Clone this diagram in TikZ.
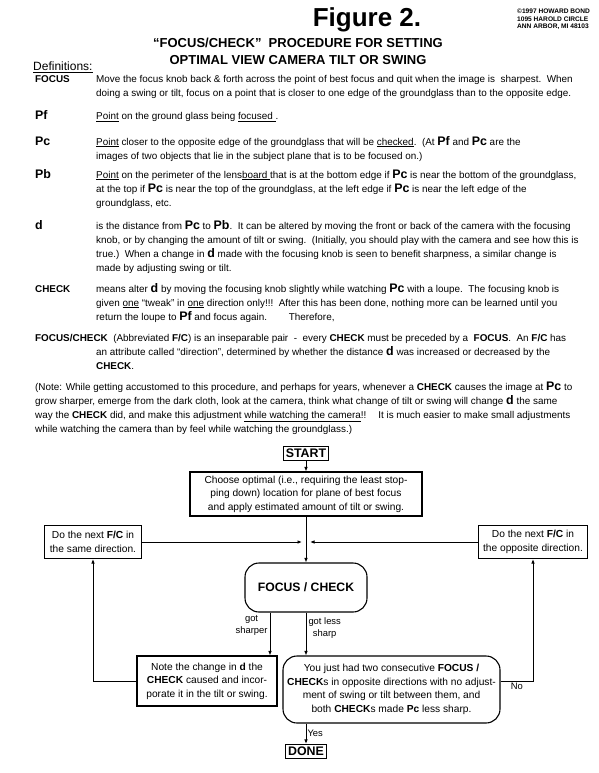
\documentclass[tikz,border=0pt]{standalone}
\usepackage{fontspec}
\setmainfont{Liberation Sans}
\usetikzlibrary{arrows.meta}

\newcommand{\bigterm}[1]{{\fontsize{12.4}{12}\selectfont\bfseries #1}}
\newcommand{\defpar}[1]{\parbox[t]{560pt}{\fontsize{9.9}{14}\selectfont\raggedright #1}}

\tikzset{
  label/.style={anchor=base west, inner sep=0pt, font=\fontsize{9.9}{11}\selectfont\bfseries},
  biglabel/.style={anchor=base west, inner sep=0pt, font=\fontsize{12.4}{12}\selectfont\bfseries},
  body/.style={anchor=base west, inner sep=0pt},
  flowbox/.style={draw, line width=1.1pt, align=center, inner sep=2pt, font=\fontsize{10.2}{13.6}\selectfont},
  endbox/.style={draw, line width=1.5pt, inner sep=2.5pt, font=\fontsize{12.4}{13}\selectfont\bfseries},
  roundbox/.style={flowbox, rounded corners=14pt},
  tag/.style={align=center, inner sep=2pt, font=\fontsize{9.4}{12.5}\selectfont},
  arr/.style={-{Latex[length=4.5pt,width=3.6pt]}, line width=1pt}
}

\begin{document}
\begin{tikzpicture}[x=1pt,y=-1pt]
  \useasboundingbox (0,0) rectangle (598,773);

  % Title
  \node[anchor=base, inner sep=0pt, font=\fontsize{26}{26}\selectfont\bfseries] (title) at (367,27) {Figure 2.};
  \node[anchor=base, inner sep=0pt, font=\fontsize{13}{13}\selectfont\bfseries] (sub1) at (298,48) {“FOCUS/CHECK”\ \ PROCEDURE FOR SETTING};
  \node[anchor=base, inner sep=0pt, font=\fontsize{13}{13}\selectfont\bfseries] (sub2) at (298,65) {OPTIMAL VIEW CAMERA TILT OR SWING};
  \node[anchor=north west, inner sep=0pt, align=left, font=\fontsize{6.6}{7.3}\selectfont\bfseries] (addr) at (517,9) {©1997 HOWARD BOND\\1095 HAROLD CIRCLE\\ANN ARBOR, MI 48103};

  % Definitions
  \node[body, font=\fontsize{12}{12}\selectfont] (defs) at (33,71) {\underline{Definitions:}};

  \node[label] (lfocus) at (35,83) {FOCUS};
  \node[body] (tfocus) at (96,83) {\defpar{Move the focus knob back \& forth across the point of best focus and quit when the image is\ \ sharpest.\ \ When\\
    doing a swing or tilt, focus on a point that is closer to one edge of the groundglass than to the opposite edge.}};

  \node[biglabel] (lpf) at (35,120) {Pf};
  \node[body] (tpf) at (96,120) {\defpar{\underline{Point} on the ground glass being \underline{focused\ }.}};

  \node[biglabel] (lpc) at (35,145) {Pc};
  \node[body] (tpc) at (96,145) {\defpar{\underline{Point} closer to the opposite edge of the groundglass that will be \underline{checked}.\ \ (At \bigterm{Pf} and \bigterm{Pc} are the\\
    images of two objects that lie in the subject plane that is to be focused on.)}};

  \node[biglabel] (lpb) at (35,178) {Pb};
  \node[body] (tpb) at (96,178) {\defpar{\underline{Point} on the perimeter of the lens\underline{board }that is at the bottom edge if \bigterm{Pc} is near the bottom of the groundglass,\\
    at the top if \bigterm{Pc} is near the top of the groundglass, at the left edge if \bigterm{Pc} is near the left edge of the\\
    groundglass, etc.}};

  \node[biglabel] (ld) at (35,229) {d};
  \node[body] (td) at (96,229) {\defpar{is the distance from \bigterm{Pc} to \bigterm{Pb}.\ \ It can be altered by moving the front or back of the camera with the focusing\\
    knob, or by changing the amount of tilt or swing.\ \ (Initially, you should play with the camera and see how this is\\
    true.)\ \ When a change in \bigterm{d} made with the focusing knob is seen to benefit sharpness, a similar change is\\
    made by adjusting swing or tilt.}};

  \node[label] (lcheck) at (35,292) {CHECK};
  \node[body] (tcheck) at (96,292) {\defpar{means alter \bigterm{d} by moving the focusing knob slightly while watching \bigterm{Pc} with a loupe.\ \ The focusing knob is\\
    given \underline{one} “tweak” in \underline{one} direction only!!!\ \ After this has been done, nothing more can be learned until you\\
    return the loupe to \bigterm{Pf} and focus again.\hspace{2.2em}Therefore,}};

  \node[body] (tfc) at (35,341) {\defpar{\textbf{FOCUS/CHECK}\ \ (Abbreviated \textbf{F/C}) is an inseparable pair\ \ -\ \ every \textbf{CHECK} must be preceded by a\ \ \textbf{FOCUS}.\ \ An \textbf{F/C} has}};
  \node[body] (tfcmore) at (96,355) {\defpar{an attribute called “direction”, determined by whether the distance \bigterm{d} was increased or decreased by the\\
    \textbf{CHECK}.}};

  \node[body] (tnote) at (35,390) {\defpar{(Note: While getting accustomed to this procedure, and perhaps for years, whenever a \textbf{CHECK} causes the image at \bigterm{Pc} to\\
    grow sharper, emerge from the dark cloth, look at the camera, think what change of tilt or swing will change \bigterm{d} the same\\
    way the \textbf{CHECK} did, and make this adjustment \underline{while watching the camera}!!\hspace{1.2em}It is much easier to make small adjustments\\
    while watching the camera than by feel while watching the groundglass.)}};

  % Flowchart
  \node[endbox] (start) at (306,453.5) {START};
  \node[flowbox, minimum width=232pt, minimum height=44pt] (choose) at (306,494) {Choose optimal (i.e., requiring the least stop-\\ping down) location for plane of best focus\\and apply estimated amount of tilt or swing.};
  \node[flowbox, minimum width=97pt, minimum height=33pt] (same) at (93,542) {Do the next \textbf{F/C} in\\the same direction.};
  \node[flowbox, minimum width=109pt, minimum height=33pt] (opp) at (533,542) {Do the next \textbf{F/C} in\\the opposite direction.};
  \node[roundbox, minimum width=122pt, minimum height=49pt, font=\fontsize{12.2}{13}\selectfont\bfseries] (fc) at (306,587.5) {FOCUS / CHECK};
  \node[flowbox, minimum width=140pt, minimum height=50pt] (note) at (207,681) {Note the change in \textbf{d} the\\\textbf{CHECK} caused and incor-\\porate it in the tilt or swing.};
  \node[roundbox, minimum width=217pt, minimum height=67pt] (you) at (391.5,689.5) {You just had two consecutive \textbf{FOCUS /}\\\textbf{CHECK}s in opposite directions with no adjust-\\ment of swing or tilt between them, and\\both \textbf{CHECK}s made \textbf{Pc} less sharp.};
  \node[endbox] (done) at (306,751.5) {DONE};

  \coordinate (joinL) at (302,542);
  \coordinate (joinR) at (310,542);

  % Connectors
  \draw[arr] (start) -- (choose);
  \draw[arr] (choose) -- (fc);
  \draw[arr] (same) -- (joinL);
  \draw[arr] (opp) -- (joinR);
  \draw[arr] ([xshift=-36pt]fc.south) -- ([xshift=-36pt]fc.south |- note.north)
    node[pos=0, tag, anchor=north east] (sharplbl) {got\\sharper};
  \draw[arr] (fc.south) -- (fc.south |- you.north)
    node[pos=0.05, tag, anchor=north west] (lesslbl) {got less\\sharp};
  \draw[arr] (note.west) -| (same.south);
  \draw[arr] (you.east |- note.west) -| (opp.south)
    node[pos=0.25, tag, below] (nolbl) {No};
  \draw[arr] (you.south -| done.north) -- (done)
    node[midway, tag, right, inner sep=1pt] (yeslbl) {Yes};
\end{tikzpicture}
\end{document}
